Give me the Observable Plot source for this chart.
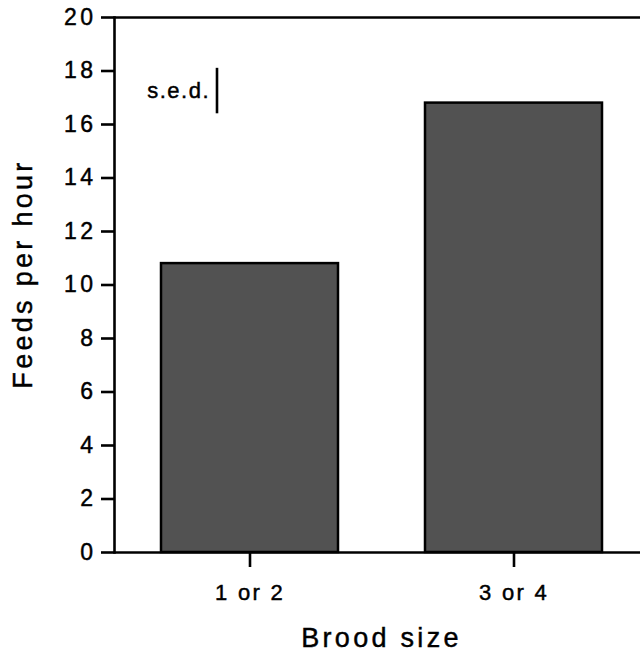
<!DOCTYPE html>
<html><head><meta charset="utf-8">
<script src="https://cdn.jsdelivr.net/npm/d3@7"></script>
<script src="https://cdn.jsdelivr.net/npm/@observablehq/plot@0.6"></script>
<style>
body{margin:0;background:#fff}
svg{font-family:"Liberation Sans",Arial,Helvetica,sans-serif}
svg text{stroke:#000;stroke-width:0.45px}
</style></head><body><div id="chart"></div>
<script>
const broodSizes = ["1 or 2", "3 or 4"];
const feedsPerHour = [10.8, 16.8];
const yTicks = [0, 2, 4, 6, 8, 10, 12, 14, 16, 18, 20];
const sedLow = 16.4;
const sedHigh = 18.1;
const sedLabel = "s.e.d.";
const xLabel = "Brood size";
const yLabel = "Feeds per hour";

const bars = broodSizes.map((b, i) => ({brood: b, feeds: feedsPerHour[i]}));
const sed = [{brood: broodSizes[0], y1: sedLow, y2: sedHigh, label: sedLabel}];

const chart = Plot.plot({
  width: 640, height: 655,
  marginLeft: 114, marginRight: 0, marginTop: 17, marginBottom: 103,
  style: {fontFamily: '"Liberation Sans", Arial, sans-serif', background: "white", color: "black", overflow: "visible"},
  x: {domain: broodSizes, range: [160, 602.5], paddingInner: 0.33, paddingOuter: 0, label: null},
  y: {domain: [0, 20], label: null},
  marks: [
    Plot.barY(bars, {x: "brood", y: "feeds", fill: "#525252", stroke: "black", strokeWidth: 2.5}),
    Plot.ruleY([0, 20], {strokeWidth: 2.6}),
    Plot.frame({anchor: "left", strokeWidth: 2.6}),
    Plot.axisY({ticks: yTicks, tickSize: 13, tickPadding: 5, strokeWidth: 2.6, fontSize: 23, label: null}),
    Plot.axisX({tickSize: 15, tickPadding: 17, strokeWidth: 2.6, fontSize: 22, label: null}),
    Plot.ruleX(sed, {x: "brood", y1: "y1", y2: "y2", dx: -33, strokeWidth: 2.6}),
    Plot.text(sed, {x: "brood", y: d => (d.y1 + d.y2) / 2, text: "label", textAnchor: "end", lineAnchor: "middle", dx: -40, fontSize: 22}),
    Plot.text([yLabel], {text: d => d, frameAnchor: "left", textAnchor: "middle", lineAnchor: "middle", rotate: -90, dx: -91, dy: -11, fontSize: 27}),
    Plot.text([xLabel], {text: d => d, frameAnchor: "bottom", textAnchor: "middle", lineAnchor: "middle", dx: 4, dy: 86, fontSize: 27})
  ]
});
const svg = d3.select(chart);
const yTickText = new Set(yTicks.map(String));
svg.selectAll("text").each(function() {
  const t = this.textContent;
  const el = d3.select(this);
  if (yTickText.has(t)) el.style("letter-spacing", "3.5px");
  else if (broodSizes.includes(t)) el.style("letter-spacing", "2.3px");
  else if (t === sedLabel) el.style("letter-spacing", "1.5px");
  else if (t === xLabel || t === yLabel) el.style("letter-spacing", "3.3px");
});
document.getElementById("chart").appendChild(chart);
</script>
</body></html>
